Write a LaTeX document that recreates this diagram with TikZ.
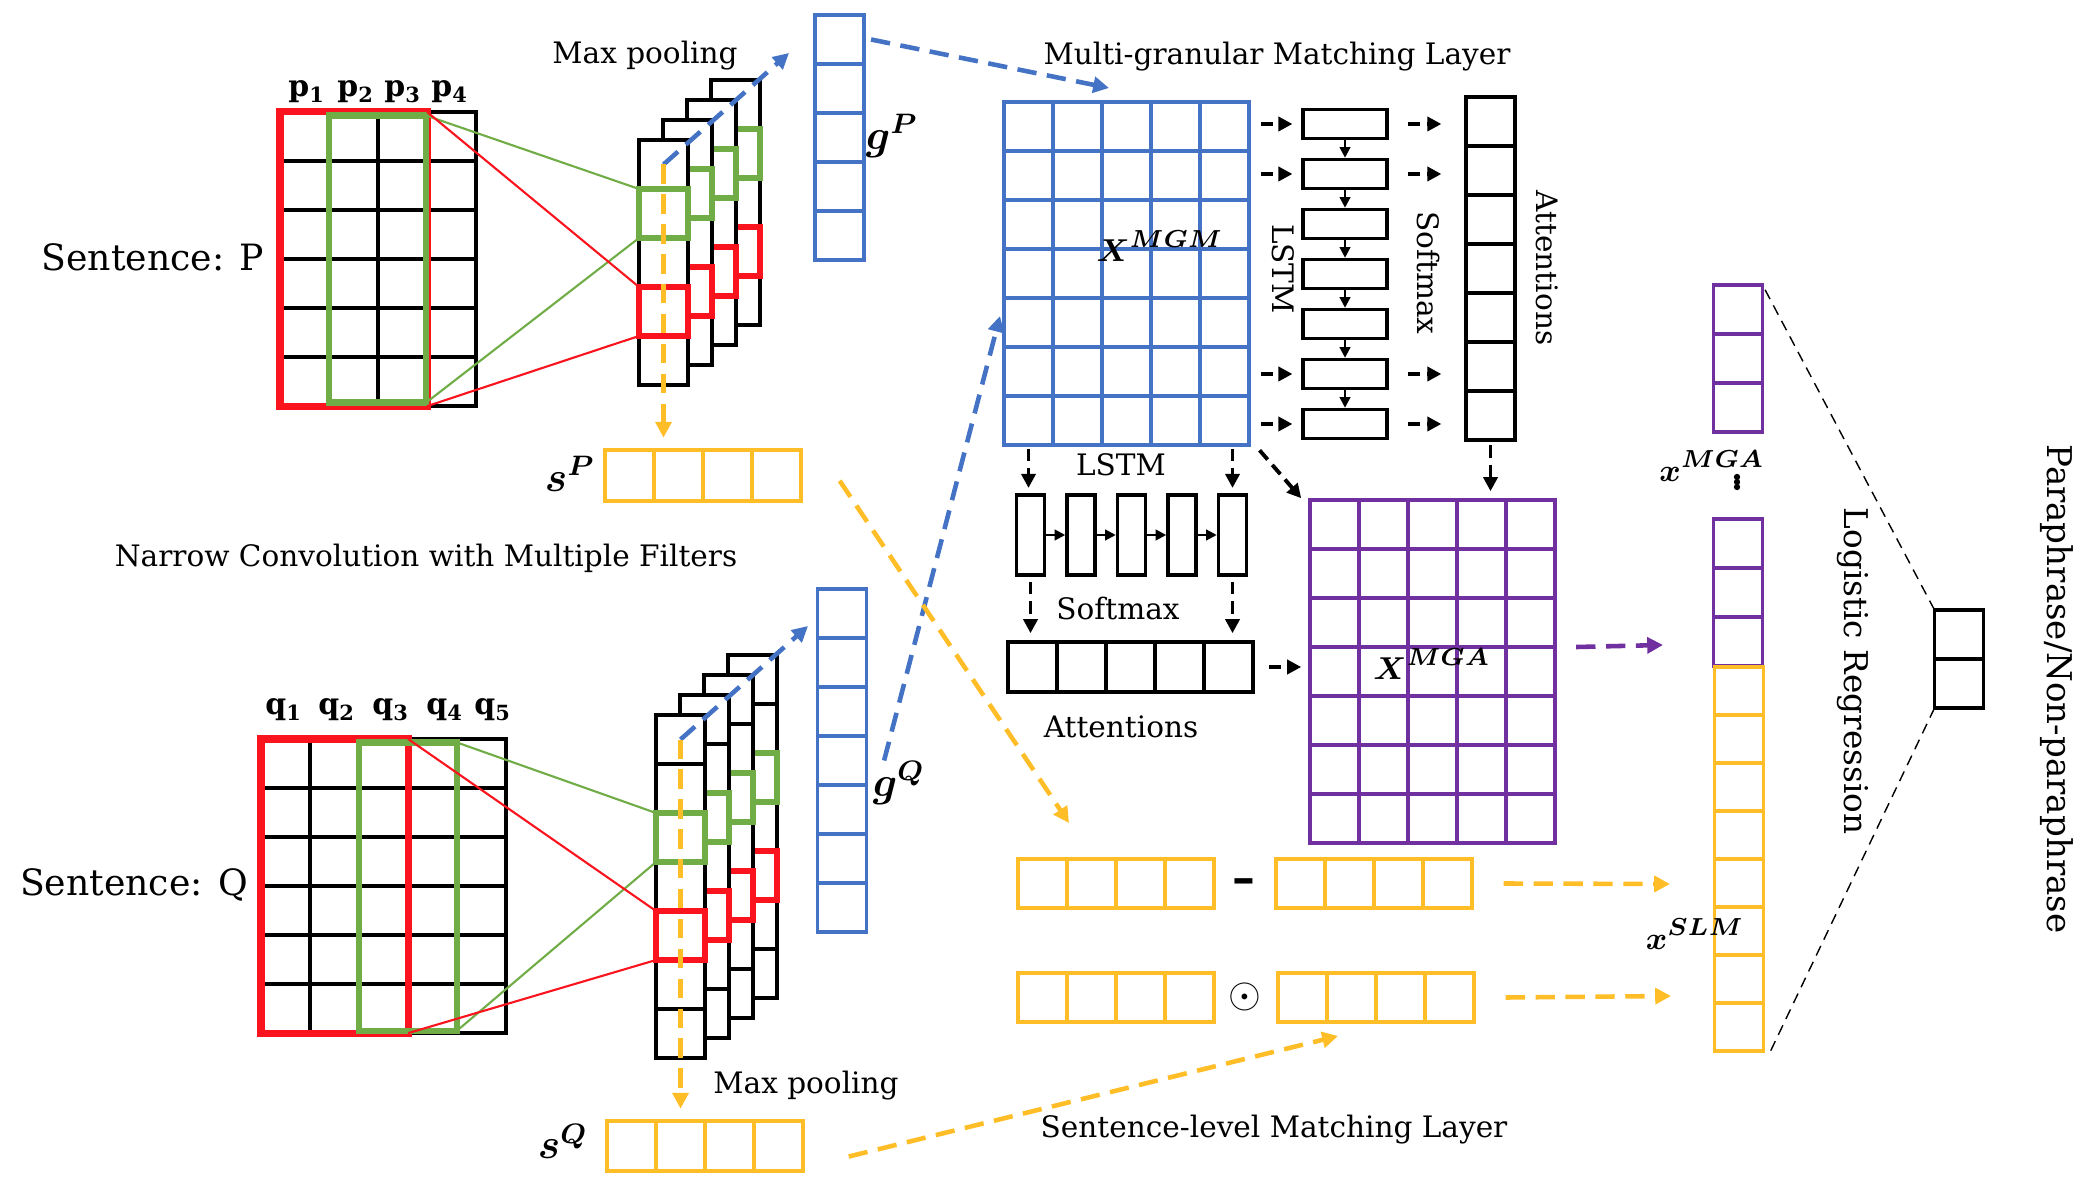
\documentclass[tikz,border=0pt]{standalone}
\usepackage{amsmath}
\usepackage{bm}
\usepackage{fontspec}
\setmainfont{DejaVu Serif}
\usetikzlibrary{arrows.meta}

\definecolor{cred}{RGB}{250,20,30}
\definecolor{cgreen}{RGB}{112,173,71}
\definecolor{cblue}{RGB}{68,114,196}
\definecolor{cyellow}{RGB}{255,190,40}
\definecolor{cpurple}{RGB}{112,48,160}

\begin{document}
\begin{tikzpicture}[x=0.01cm,y=-0.01cm,
        cell/.style={draw,line width=0.9pt,fill=white,inner sep=0pt,outer sep=0pt,
            minimum width=0.49cm,minimum height=0.49cm},
        bcell/.style={cell,draw=cblue,line width=1pt},
        ycell/.style={cell,draw=cyellow,line width=1.1pt},
        pcell/.style={cell,draw=cpurple,line width=1.1pt},
        gmark/.style={cell,fill=none,draw=cgreen,line width=1.7pt},
        rmark/.style={cell,fill=none,draw=cred,line width=1.7pt},
        redbox/.style={draw=cred,line width=2pt,inner sep=0pt,outer sep=0pt,anchor=north west},
        greenbox/.style={draw=cgreen,line width=1.8pt,inner sep=0pt,outer sep=0pt,anchor=north west},
        vbox/.style={draw,line width=1pt,inner sep=0pt,minimum width=0.84cm,minimum height=0.29cm},
        hbox/.style={draw,line width=1pt,inner sep=0pt,minimum width=0.28cm,minimum height=0.8cm},
        lab/.style={inner sep=0pt,font=\fontsize{8.4}{10}\selectfont},
        big/.style={inner sep=0pt,font=\fontsize{10.3}{12}\selectfont},
        plab/.style={inner sep=0pt,font=\fontsize{8.5}{10}\selectfont},
        mlab/.style={inner sep=0pt,font=\fontsize{9.5}{11}\selectfont},
        vlab/.style={inner sep=0pt,font=\fontsize{12}{14}\selectfont},
        gline/.style={cgreen,line width=0.6pt},
        rline/.style={cred,line width=0.6pt},
        kdash/.style={-{Triangle[length=4pt,width=4pt]},line width=1.1pt,dash pattern=on 3.5pt off 2pt},
        tarr/.style={-{Triangle[length=3pt,width=3pt]},line width=0.6pt},
        cdash/.style={-{Triangle[length=4.5pt,width=4.5pt]},line width=1.3pt,dash pattern=on 5.5pt off 3pt},
        tdash/.style={line width=0.4pt,dash pattern=on 3pt off 2pt}]
    \useasboundingbox (0,0) rectangle (2098,1180);

    % sentence P
    \foreach \col in {1,...,4}
        \foreach \row in {1,...,6}
            \node[cell] (P-\row-\col) at (255.5+49*\col,87.5+49*\row) {};
    \node[redbox,minimum width=1.47cm,minimum height=2.94cm] (Pred) at (P-1-1.north west) {};
    \node[greenbox,minimum width=0.97cm,minimum height=2.87cm] (Pgreen) at ([yshift=-1pt]P-1-2.north west) {};
    \foreach \col/\x in {1/307,2/356,3/403,4/450}
        \node[plab] (p\col) at (\x,92) {$\mathbf{p_{\col}}$};
    \node[big] (sentP) at (153,257) {Sentence: P};

    \foreach \lay in {3,2,1,0} {
        \foreach \row in {1,...,5}
            \node[cell] (fP\lay-\row) at (663.5+24*\lay,115.5+49*\row-20*\lay) {};
        \node[gmark] (gfP\lay) at (fP\lay-2) {};
        \node[rmark] (rfP\lay) at (fP\lay-4) {};
    }
    \draw[gline] (Pgreen.north east) -- (gfP0.north west);
    \draw[gline] (Pgreen.south east) -- (gfP0.south west);
    \draw[rline] (Pred.north east) -- (rfP0.north west);
    \draw[rline] (Pred.south east) -- (rfP0.south west);

    \foreach \row in {1,...,5}
        \node[bcell] (gP-\row) at (839.5,-9.5+49*\row) {};
    \foreach \col in {1,...,4}
        \node[ycell,minimum height=0.51cm] (sP-\col) at (580.5+49*\col,475.5) {};
    \node[vlab] (gPl) at (892,136) {$\bm{g^P}$};
    \node[vlab] (sPl) at (570,474) {$\bm{s^P}$};
    \node[lab] (maxP) at (645,56) {Max pooling};
    \node[lab] (conv) at (426,558) {Narrow Convolution with Multiple Filters};

    % sentence Q
    \foreach \col in {1,...,5}
        \foreach \row in {1,...,6}
            \node[cell] (Q-\row-\col) at (236.5+49*\col,714.5+49*\row) {};
    \node[redbox,minimum width=1.47cm,minimum height=2.94cm] (Qred) at (Q-1-1.north west) {};
    \node[greenbox,minimum width=0.98cm,minimum height=2.88cm] (Qgreen) at ([yshift=-1pt]Q-1-3.north west) {};
    \foreach \col/\x in {1/284,2/337,3/391,4/445,5/493}
        \node[plab] (q\col) at (\x,710) {$\mathbf{q_{\col}}$};
    \node[big] (sentQ) at (134,885) {Sentence: Q};

    \foreach \lay in {3,2,1,0} {
        \foreach \row in {1,...,7}
            \node[cell] (fQ\lay-\row) at (680.5+24*\lay,690.5+49*\row-20*\lay) {};
        \node[gmark] (gfQ\lay) at (fQ\lay-3) {};
        \node[rmark] (rfQ\lay) at (fQ\lay-5) {};
    }
    \draw[gline] (Qgreen.north east) -- (gfQ0.north west);
    \draw[gline] (Qgreen.south east) -- (gfQ0.south west);
    \draw[rline] (Qred.north east) -- (rfQ0.north west);
    \draw[rline] (Qred.south east) -- (rfQ0.south west);

    \foreach \row in {1,...,7}
        \node[bcell] (gQ-\row) at (842,564.5+49*\row) {};
    \foreach \col in {1,...,4}
        \node[ycell,minimum height=0.5cm] (sQ-\col) at (582.5+49*\col,1146) {};
    \node[vlab] (gQl) at (899,783) {$\bm{g^Q}$};
    \node[vlab] (sQl) at (563,1141) {$\bm{s^Q}$};
    \node[lab] (maxQ) at (806,1086) {Max pooling};

    % multi-granular matching
    \foreach \col in {1,...,5}
        \foreach \row in {1,...,7}
            \node[bcell] (mgm-\row-\col) at (979.5+49*\col,77.5+49*\row) {};
    \node[mlab] (Xmgml) at (1160,246) {$\bm{X^{MGM}}$};
    \node[lab] (mgml) at (1277,57) {Multi-granular Matching Layer};

    \foreach \row in {1,...,7}
        \node[cell] (att-\row) at (1490.5,72.5+49*\row) {};
    \foreach \row in {1,...,7}
        \node[vbox] (lsv-\row) at (1345,74+50*\row) {};
    \foreach \i [count=\j from 2] in {1,...,6}
        \draw[tarr] (lsv-\i) -- (lsv-\j);
    \foreach \i in {1,2,6,7} {
        \draw[kdash] ([xshift=-11.5pt]lsv-\i.west) -- ([xshift=-2.5pt]lsv-\i.west);
        \draw[kdash] ([xshift=5.5pt]lsv-\i.east) -- ([xshift=-7pt]lsv-\i.east -| att-\i.west);
    }
    \node[lab,rotate=-90] (lstmv) at (1283,269) {LSTM};
    \node[lab,rotate=-90] (softv) at (1428,273) {Softmax};
    \node[lab,rotate=-90] (attv) at (1547,268) {Attentions};

    \foreach \col in {1,...,5}
        \node[hbox] (lsh-\col) at (980+50.5*\col,535) {};
    \foreach \i [count=\j from 2] in {1,...,4}
        \draw[tarr] (lsh-\i) -- (lsh-\j);
    \foreach \col in {1,...,5}
        \node[cell,minimum height=0.5cm] (attr-\col) at (983.5+49*\col,667) {};
    \node[lab] (lstmh) at (1121,465) {LSTM};
    \node[lab] (softh) at (1118,608) {Softmax};
    \node[lab] (atth) at (1121,727) {Attentions};

    \foreach \col in {1,...,5}
        \foreach \row in {1,...,7}
            \node[pcell] (mga-\row-\col) at (1285.5+49*\col,475.5+49*\row) {};
    \node[mlab] (Xmgal) at (1432,664) {$\bm{X^{MGA}}$};

    \draw[kdash] ([yshift=-1pt]mgm-7-1.south) -- ([yshift=1.5pt]mgm-7-1.south |- lsh-1.north);
    \draw[kdash] ([yshift=-1pt]lsh-5.north |- mgm-7-5.south) -- ([yshift=1.5pt]lsh-5.north);
    \draw[kdash] ([yshift=-1.5pt]lsh-1.south) -- ([yshift=2.5pt]lsh-1.south |- attr-1.north);
    \draw[kdash] ([yshift=-1.5pt]lsh-5.south) -- ([yshift=2.5pt]lsh-5.south |- attr-5.north);
    \draw[kdash] ([shift={(3pt,-1.5pt)}]mgm-7-5.south east) -- ([shift={(-2.5pt,0.5pt)}]mga-1-1.north west);
    \draw[kdash] ([xshift=4.5pt]attr-5.east) -- ([xshift=-2.5pt]attr-5.east -| mga-1-1.west);
    \draw[kdash] ([yshift=-1.5pt]att-7.south) -- ([yshift=2.5pt]att-7.south |- mga-1-4.north);

    % sentence-level matching
    \foreach \col in {1,...,4} {
        \node[ycell] (yaL-\col) at (993.5+49*\col,883.5) {};
        \node[ycell] (yaR-\col) at (1251.5+49*\col,883.5) {};
        \node[ycell] (ybL-\col) at (993.5+49*\col,997.5) {};
        \node[ycell] (ybR-\col) at (1253.5+49*\col,997.5) {};
    }
    \node[inner sep=0pt,font=\fontsize{13}{14}\selectfont\bfseries] (minus) at (1244,886) {–};
    \node[inner sep=0pt,font=\fontsize{13}{14}\selectfont] (odot) at (1245,997) {$\odot$};
    \node[lab] (slml) at (1274,1130) {Sentence-level Matching Layer};

    % output
    \foreach \row in {1,2,3}
        \node[pcell] (pu-\row) at (1738,260.5+49*\row) {};
    \foreach \row in {1,2,3}
        \node[pcell] (pl-\row) at (1738,494.5+49*\row) {};
    \foreach \row in {1,...,8}
        \node[ycell,minimum height=0.48cm] (ys-\row) at (1739,643+48*\row) {};
    \foreach \row in {1,2}
        \node[cell] (cls-\row) at (1959,585.5+49*\row) {};
    \node[mlab] (xmgal) at (1712,466) {$\bm{x^{MGA}}$};
    \foreach \y in {477,482,487}
        \fill (1737,\y) circle (0.9pt);
    \node[mlab] (xslml) at (1695,934) {$\bm{x^{SLM}}$};
    \draw[tdash] (cls-1.north west) -- (pu-1.north east);
    \draw[tdash] (cls-2.south west) -- ([xshift=2pt]ys-8.south east);
    \node[lab,font=\fontsize{9.3}{11}\selectfont,rotate=-90] (logr) at (1853,671) {Logistic Regression};
    \node[lab,font=\fontsize{9.7}{11}\selectfont,rotate=-90] (para) at (2057,689) {Paraphrase/Non-paraphrase};

    % dashed flows
    \coordinate (gPin) at (789,53);
    \coordinate (gQin) at (808,626);
    \coordinate (mgmtop) at (1109,88);
    \coordinate (mgmleft) at (1000,316);
    \coordinate (mgaout) at (1663,645);
    \coordinate (slmA) at (1670,884);
    \coordinate (slmB) at (1671,996);
    \coordinate (rowAin) at (1069,823);
    \coordinate (rowBin) at (1338,1036);
    \draw[cdash,cblue] (fP0-1.center) -- (gPin);
    \draw[cdash,cyellow] (fP0-1.center) -- ([yshift=3.5pt]fP0-1.center |- sP-1.north);
    \draw[cdash,cblue] (fQ0-1.center) -- (gQin);
    \draw[cdash,cyellow] (fQ0-1.center) -- ([yshift=3.5pt]fQ0-1.center |- sQ-1.north);
    \draw[cdash,cblue] ([xshift=2pt]gP-1.east) -- (mgmtop);
    \draw[cdash,cblue] ([xshift=5pt]gQ-4.east) -- (mgmleft);
    \draw[cdash,cyellow] ([shift={(11pt,-1.5pt)}]sP-4.east) -- (rowAin);
    \draw[cdash,cyellow] ([shift={(13pt,-3pt)}]sQ-4.east) -- (rowBin);
    \draw[cdash,cyellow] ([xshift=9pt]yaR-4.east) -- (slmA);
    \draw[cdash,cyellow] ([xshift=9pt]ybR-4.east) -- (slmB);
    \draw[cdash,cpurple] ([xshift=6pt]mga-3-5.south east) -- (mgaout);
\end{tikzpicture}
\end{document}
